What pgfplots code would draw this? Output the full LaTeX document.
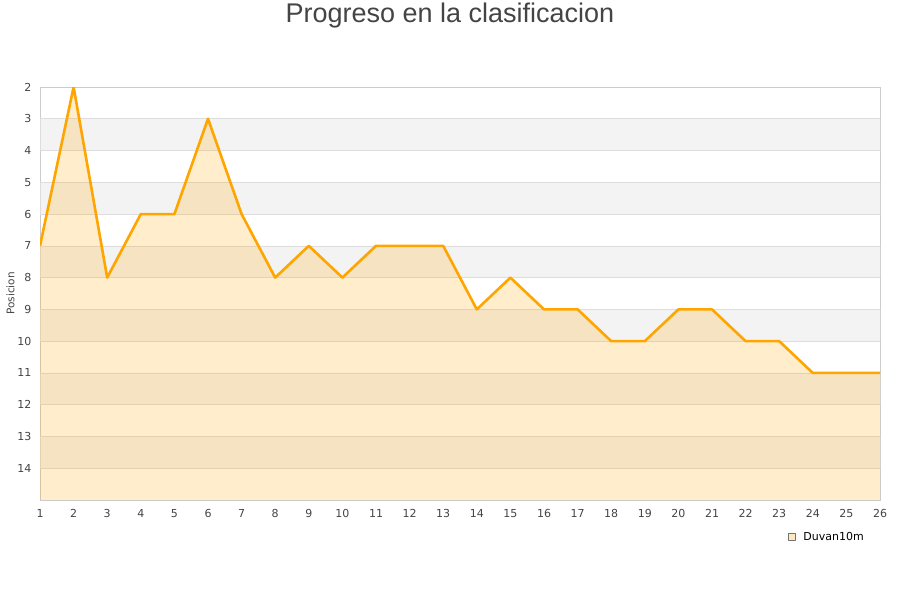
\documentclass[border=0pt]{standalone}
\usepackage{fontspec}
\setmainfont{DejaVu Sans}
\newfontfamily\titlefont{Liberation Sans}
\usepackage{pgfplots}
\pgfplotsset{compat=1.18}
\definecolor{lineor}{HTML}{FFA500}
\definecolor{band}{HTML}{F3F3F3}
\definecolor{gridc}{HTML}{DDDDDD}
\definecolor{txt}{HTML}{444444}
\begin{document}
\begin{tikzpicture}
\path[use as bounding box] (-40bp,-100bp) rectangle (860bp,500bp);
\begin{axis}[
  scale only axis, width=840bp, height=413bp,
  xmin=1, xmax=26, ymin=2, ymax=15,
  y dir=reverse,
  xtick={1,...,26}, ytick={2,...,14},
  major tick length=0pt,
  axis line style={black!20, line width=0.8bp},
  tick label style={font=\fontsize{11bp}{13bp}\selectfont, text=txt},
  xticklabel style={yshift=-6bp},
  yticklabel style={xshift=-5bp},
  /pgf/number format/assume math mode=true,
  ylabel={Posicion},
  ylabel style={font=\fontsize{10.5bp}{12bp}\selectfont, text=txt},
  ylabel shift=-4bp,
  legend style={draw=none, fill=none, at={(0.89,-0.09)}, anchor=west,
    font=\fontsize{11bp}{13bp}\selectfont, text=black, inner sep=0pt,
    nodes={inner xsep=3bp},
    /tikz/every odd column/.append style={column sep=5bp}},
  legend image code/.code={\draw[fill=lineor!25, draw=black!55, line width=0.6bp] (-3.5bp,-3.5bp) rectangle (3.5bp,3.5bp);},
]
% background bands (their edges give the grid lines)
\addplot[draw=gridc, line width=0.6bp, fill=band, forget plot] coordinates {(1,3) (26,3) (26,4) (1,4) (1,3)};
\addplot[draw=gridc, line width=0.6bp, fill=band, forget plot] coordinates {(1,5) (26,5) (26,6) (1,6) (1,5)};
\addplot[draw=gridc, line width=0.6bp, fill=band, forget plot] coordinates {(1,7) (26,7) (26,8) (1,8) (1,7)};
\addplot[draw=gridc, line width=0.6bp, fill=band, forget plot] coordinates {(1,9) (26,9) (26,10) (1,10) (1,9)};
\addplot[draw=gridc, line width=0.6bp, fill=band, forget plot] coordinates {(1,11) (26,11) (26,12) (1,12) (1,11)};
\addplot[draw=gridc, line width=0.6bp, fill=band, forget plot] coordinates {(1,13) (26,13) (26,14) (1,14) (1,13)};
% area under the line
\addplot[draw=none, fill=lineor, fill opacity=0.2, forget plot] coordinates {
  (1,15) (1,7) (2,2) (3,8) (4,6) (5,6) (6,3) (7,6) (8,8) (9,7) (10,8)
  (11,7) (12,7) (13,7) (14,9) (15,8) (16,9) (17,9) (18,10) (19,10)
  (20,9) (21,9) (22,10) (23,10) (24,11) (25,11) (26,11) (26,15)
};
\addplot[lineor, line width=2.6bp, line join=round] coordinates {
  (1,7) (2,2) (3,8) (4,6) (5,6) (6,3) (7,6) (8,8) (9,7) (10,8)
  (11,7) (12,7) (13,7) (14,9) (15,8) (16,9) (17,9) (18,10) (19,10)
  (20,9) (21,9) (22,10) (23,10) (24,11) (25,11) (26,11)
};
\addlegendentry{Duvan10m}
\end{axis}
\node[font=\titlefont\fontsize{27bp}{30bp}\selectfont, text=txt] at (410bp,484.5bp) {Progreso en la clasificacion};
\end{tikzpicture}
\end{document}
